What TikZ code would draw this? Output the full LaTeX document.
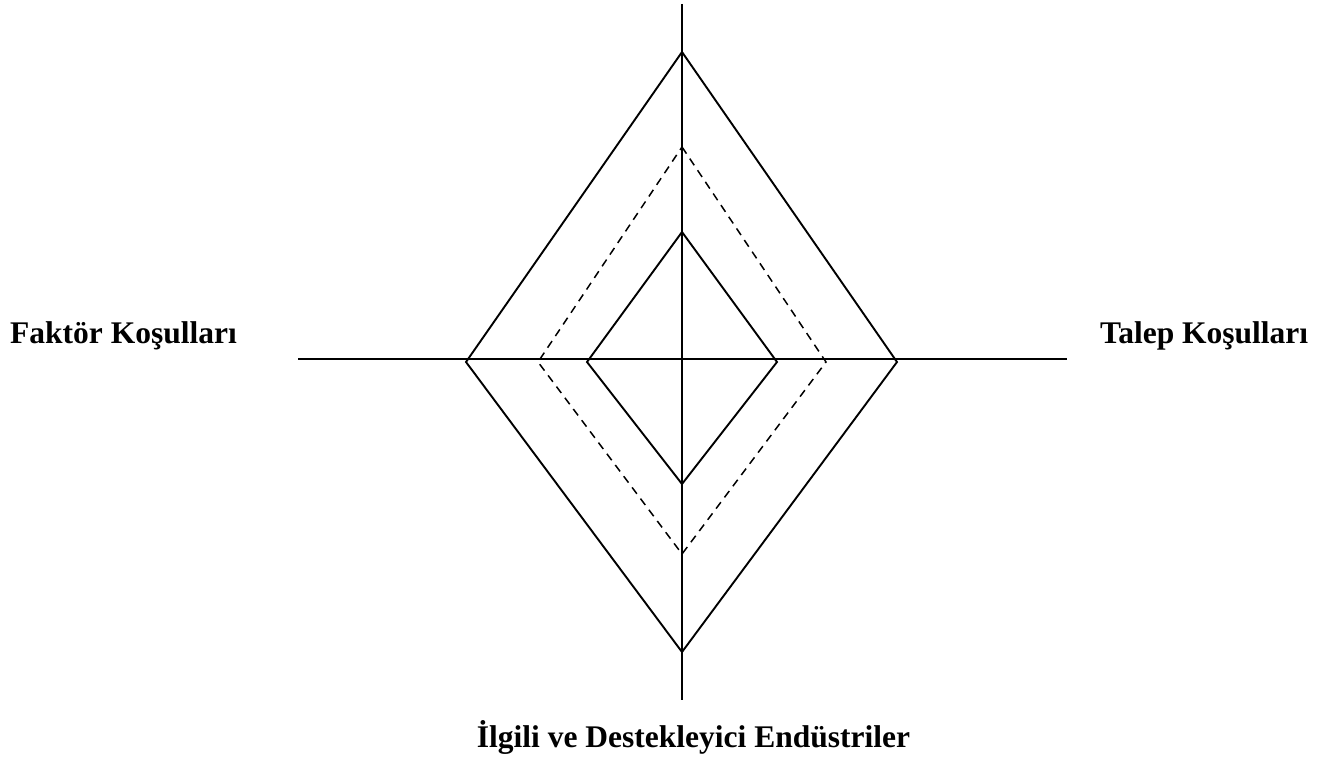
\documentclass[tikz,border=0pt]{standalone}
\usepackage{fontspec}
\setmainfont{Liberation Serif}
\begin{document}
\begin{tikzpicture}[x=1pt,y=-1pt,
  axis/.style={line width=1.9pt,black},
  solidline/.style={line width=1.9pt,black,line join=miter},
  dashline/.style={line width=1.5pt,black,dash pattern=on 8pt off 6pt},
  lbl/.style={font=\fontsize{31.5}{36}\selectfont\bfseries,inner sep=0pt}]
\useasboundingbox (0,0) rectangle (1327,778);
% axes
\coordinate (vt) at (682,4);
\coordinate (vb) at (682,700);
\coordinate (hl) at (298,359);
\coordinate (hr) at (1067,359);
\draw[axis] (vt) -- (vb);
\draw[axis] (hl) -- (hr);
% outer diamond
\coordinate (oT) at (682,52);
\coordinate (oR) at (897,362);
\coordinate (oB) at (682,652);
\coordinate (oL) at (466,362);
\draw[solidline] (oT) -- (oR) -- (oB) -- (oL) -- cycle;
% dashed diamond
\coordinate (dT) at (682,147);
\coordinate (dR) at (826,362);
\coordinate (dB) at (682,554);
\coordinate (dL) at (538,362);
\draw[dashline] (dT) -- (dR) -- (dB) -- (dL) -- cycle;
% inner diamond
\coordinate (iT) at (682,232);
\coordinate (iR) at (777,362);
\coordinate (iB) at (682,484);
\coordinate (iL) at (587,362);
\draw[solidline] (iT) -- (iR) -- (iB) -- (iL) -- cycle;
% labels
\node[lbl,anchor=base west] (fk) at (10,343) {Faktör Koşulları};
\node[lbl,anchor=base west] (tk) at (1100,343) {Talep Koşulları};
\node[lbl,anchor=base] (ide) at (693.5,747) {İlgili ve Destekleyici Endüstriler};
\end{tikzpicture}
\end{document}
